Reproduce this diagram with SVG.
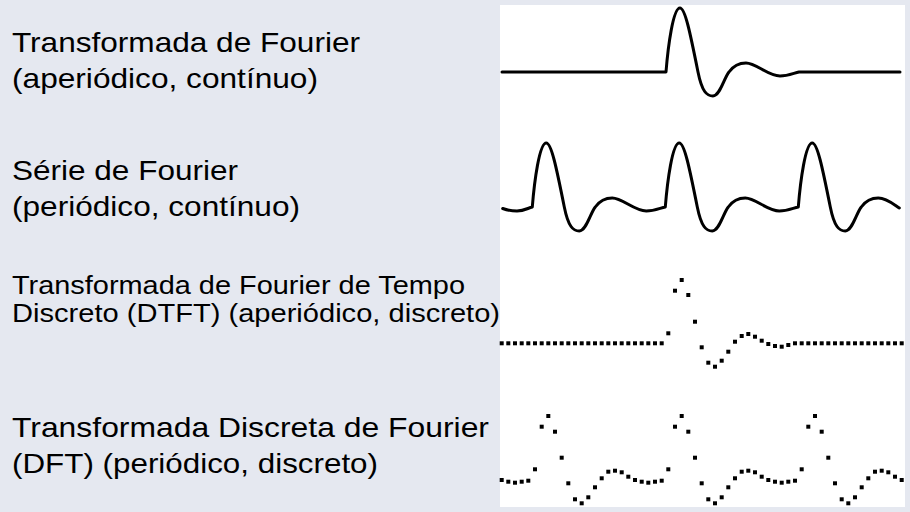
<svg xmlns="http://www.w3.org/2000/svg" xmlns:xlink="http://www.w3.org/1999/xlink" width="910" height="512" viewBox="0 0 910 512">
<style>
.lbl{font-family:"Liberation Sans",Arial,sans-serif;fill:#000}
.big{font-size:28px}
.mid{font-size:26px}
.wave{fill:none;stroke:#000;stroke-width:3;stroke-linejoin:round;stroke-linecap:round}
.dots use{fill:#000}
</style>
<defs>
<rect id="d" x="-2" y="-2" width="4" height="4" fill="#000"/>
</defs>
<rect x="0" y="0" width="910" height="512" fill="#e5e8f0"/>
<rect x="500" y="5" width="405" height="502" fill="#ffffff"/>

<g id="label-ft">
<text class="lbl big" x="12" y="52" textLength="348" lengthAdjust="spacingAndGlyphs">Transformada de Fourier</text>
<text class="lbl big" x="12" y="88" textLength="306" lengthAdjust="spacingAndGlyphs">(aperiódico, contínuo)</text>
</g>
<g id="label-fs">
<text class="lbl big" x="12" y="180" textLength="226" lengthAdjust="spacingAndGlyphs">Série de Fourier</text>
<text class="lbl big" x="12" y="216" textLength="288" lengthAdjust="spacingAndGlyphs">(periódico, contínuo)</text>
</g>
<g id="label-dtft">
<text class="lbl mid" x="12" y="294" textLength="453" lengthAdjust="spacingAndGlyphs">Transformada de Fourier de Tempo</text>
<text class="lbl mid" x="12" y="322" textLength="488" lengthAdjust="spacingAndGlyphs">Discreto (DTFT) (aperiódico, discreto)</text>
</g>
<g id="label-dft">
<text class="lbl big" x="12" y="437" textLength="477" lengthAdjust="spacingAndGlyphs">Transformada Discreta de Fourier</text>
<text class="lbl big" x="12" y="473" textLength="366" lengthAdjust="spacingAndGlyphs">(DFT) (periódico, discreto)</text>
</g>

<g id="wave-ft">
<path class="wave" d="M502,72 H666 c2,-25 7,-64 14,-64 c5,0 10,24 18,64 c4,20 9,24 15,24 c7,0 11,-18 16,-24 c5,-7 10,-9 17,-9 c10,0 22,13 34,13 c8,0 14,-3 19,-4 H900"/>
</g>

<g id="wave-fs">
<path class="wave" d="M502.7,208.5 C508,210.5 512,211 517,211 C524,211 528,208 532.3,207
c2,-25 7,-64 14,-64 c5,0 10,24 18,64 c4,20 9,24 15,24 c7,0 11,-18 16,-24 c5,-7 10,-9 17,-9 c10,0 22,13 34,13 c8,0 14,-3 19,-4
c2,-25 7,-64 14,-64 c5,0 10,24 18,64 c4,20 9,24 15,24 c7,0 11,-18 16,-24 c5,-7 10,-9 17,-9 c10,0 22,13 34,13 c8,0 14,-3 19,-4
c2,-25 7,-64 14,-64 c5,0 10,24 18,64 c4,20 9,24 15,24 c7,0 11,-18 16,-24 c5,-7 10,-9 17,-9 c8,0 15,6 21,10"/>
</g>

<g id="wave-dtft" class="dots">
<use xlink:href="#d" x="501.7" y="343.3"/><use xlink:href="#d" x="508.3" y="343.3"/><use xlink:href="#d" x="515" y="343.3"/><use xlink:href="#d" x="521.7" y="343.3"/><use xlink:href="#d" x="528.3" y="343.3"/><use xlink:href="#d" x="535" y="343.3"/><use xlink:href="#d" x="541.7" y="343.3"/><use xlink:href="#d" x="548.3" y="343.3"/><use xlink:href="#d" x="555" y="343.3"/><use xlink:href="#d" x="561.7" y="343.3"/><use xlink:href="#d" x="568.3" y="343.3"/><use xlink:href="#d" x="575" y="343.3"/><use xlink:href="#d" x="581.7" y="343.3"/><use xlink:href="#d" x="588.3" y="343.3"/><use xlink:href="#d" x="595" y="343.3"/><use xlink:href="#d" x="601.7" y="343.3"/><use xlink:href="#d" x="608.3" y="343.3"/><use xlink:href="#d" x="615" y="343.3"/><use xlink:href="#d" x="621.7" y="343.3"/><use xlink:href="#d" x="628.3" y="343.3"/><use xlink:href="#d" x="635" y="343.3"/><use xlink:href="#d" x="641.7" y="343.3"/><use xlink:href="#d" x="648.3" y="343.3"/><use xlink:href="#d" x="655" y="343.3"/><use xlink:href="#d" x="661.7" y="343.3"/>
<use xlink:href="#d" x="668.3" y="333.3"/><use xlink:href="#d" x="675" y="290.7"/><use xlink:href="#d" x="681.7" y="280"/><use xlink:href="#d" x="688.3" y="295"/><use xlink:href="#d" x="695" y="321.7"/><use xlink:href="#d" x="701.7" y="347.3"/><use xlink:href="#d" x="708.3" y="362.7"/><use xlink:href="#d" x="715" y="366.7"/><use xlink:href="#d" x="721.7" y="360.7"/><use xlink:href="#d" x="728.3" y="351.7"/><use xlink:href="#d" x="735" y="341.7"/><use xlink:href="#d" x="741.7" y="336"/><use xlink:href="#d" x="748.3" y="334"/><use xlink:href="#d" x="755" y="336.7"/><use xlink:href="#d" x="761.7" y="340.7"/><use xlink:href="#d" x="768.3" y="344"/><use xlink:href="#d" x="775" y="346"/><use xlink:href="#d" x="781.7" y="346.7"/><use xlink:href="#d" x="788.3" y="345"/>
<use xlink:href="#d" x="795" y="343.3"/><use xlink:href="#d" x="801.7" y="343.3"/><use xlink:href="#d" x="808.3" y="343.3"/><use xlink:href="#d" x="815" y="343.3"/><use xlink:href="#d" x="821.7" y="343.3"/><use xlink:href="#d" x="828.3" y="343.3"/><use xlink:href="#d" x="835" y="343.3"/><use xlink:href="#d" x="841.7" y="343.3"/><use xlink:href="#d" x="848.3" y="343.3"/><use xlink:href="#d" x="855" y="343.3"/><use xlink:href="#d" x="861.7" y="343.3"/><use xlink:href="#d" x="868.3" y="343.3"/><use xlink:href="#d" x="875" y="343.3"/><use xlink:href="#d" x="881.7" y="343.3"/><use xlink:href="#d" x="888.3" y="343.3"/><use xlink:href="#d" x="895" y="343.3"/><use xlink:href="#d" x="901.7" y="343.3"/>
</g>

<g id="wave-dft" class="dots">
<use xlink:href="#d" x="501.7" y="480"/><use xlink:href="#d" x="508.3" y="481.7"/><use xlink:href="#d" x="515" y="482.7"/><use xlink:href="#d" x="521.7" y="481.7"/><use xlink:href="#d" x="528.3" y="480.7"/><use xlink:href="#d" x="535" y="469.3"/><use xlink:href="#d" x="541.7" y="426.7"/>
<use xlink:href="#d" x="548.3" y="416"/><use xlink:href="#d" x="555" y="431.7"/><use xlink:href="#d" x="561.7" y="457.7"/><use xlink:href="#d" x="568.3" y="483.3"/><use xlink:href="#d" x="575" y="499.3"/><use xlink:href="#d" x="581.7" y="503.3"/><use xlink:href="#d" x="588.3" y="497.3"/><use xlink:href="#d" x="595" y="487.3"/><use xlink:href="#d" x="601.7" y="478.3"/><use xlink:href="#d" x="608.3" y="471.7"/><use xlink:href="#d" x="615" y="470.7"/><use xlink:href="#d" x="621.7" y="472.3"/><use xlink:href="#d" x="628.3" y="476.7"/><use xlink:href="#d" x="635" y="480"/><use xlink:href="#d" x="641.7" y="481.7"/><use xlink:href="#d" x="648.3" y="482.7"/><use xlink:href="#d" x="655" y="481.7"/><use xlink:href="#d" x="661.7" y="480.7"/><use xlink:href="#d" x="668.3" y="469.3"/><use xlink:href="#d" x="675" y="426.7"/>
<use xlink:href="#d" x="681.7" y="416"/><use xlink:href="#d" x="688.3" y="431.7"/><use xlink:href="#d" x="695" y="457.7"/><use xlink:href="#d" x="701.7" y="483.3"/><use xlink:href="#d" x="708.3" y="499.3"/><use xlink:href="#d" x="715" y="503.3"/><use xlink:href="#d" x="721.7" y="497.3"/><use xlink:href="#d" x="728.3" y="487.3"/><use xlink:href="#d" x="735" y="478.3"/><use xlink:href="#d" x="741.7" y="471.7"/><use xlink:href="#d" x="748.3" y="470.7"/><use xlink:href="#d" x="755" y="472.3"/><use xlink:href="#d" x="761.7" y="476.7"/><use xlink:href="#d" x="768.3" y="480"/><use xlink:href="#d" x="775" y="481.7"/><use xlink:href="#d" x="781.7" y="482.7"/><use xlink:href="#d" x="788.3" y="481.7"/><use xlink:href="#d" x="795" y="480.7"/><use xlink:href="#d" x="801.7" y="469.3"/><use xlink:href="#d" x="808.3" y="426.7"/>
<use xlink:href="#d" x="815" y="416"/><use xlink:href="#d" x="821.7" y="431.7"/><use xlink:href="#d" x="828.3" y="457.7"/><use xlink:href="#d" x="835" y="483.3"/><use xlink:href="#d" x="841.7" y="499.3"/><use xlink:href="#d" x="848.3" y="503.3"/><use xlink:href="#d" x="855" y="497.3"/><use xlink:href="#d" x="861.7" y="487.3"/><use xlink:href="#d" x="868.3" y="478.3"/><use xlink:href="#d" x="875" y="471.7"/><use xlink:href="#d" x="881.7" y="470.7"/><use xlink:href="#d" x="888.3" y="472.3"/><use xlink:href="#d" x="895" y="476.7"/><use xlink:href="#d" x="901.7" y="480"/>
</g>
</svg>
